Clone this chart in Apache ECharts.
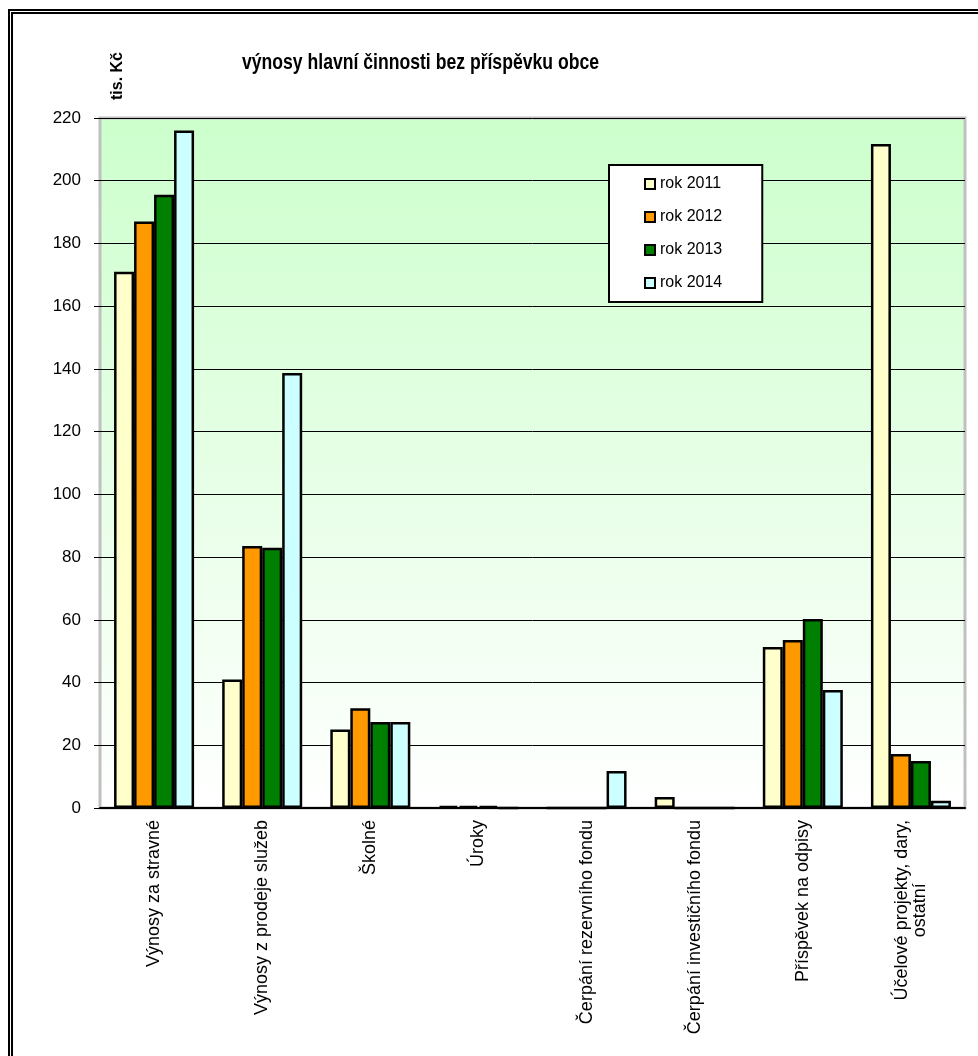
<!DOCTYPE html>
<html>
<head>
<meta charset="utf-8">
<script src="https://cdn.jsdelivr.net/npm/echarts@6/dist/echarts.min.js"></script>
<style>
  html, body { margin: 0; padding: 0; background: #fff; }
  #frame {
    position: absolute; left: 8px; top: 9px; width: 970px; height: 1047px;
    border-left: 5px double #000; border-top: 5px double #000;
  }
  #chart { position: absolute; left: 0; top: 0; width: 978px; height: 1056px; }
</style>
</head>
<body>
<div id="frame"></div>
<div id="chart"></div>
<script>
const categories = [
  'Výnosy za stravné',
  'Výnosy z prodeje služeb',
  'Školné',
  'Úroky',
  'Čerpání rezervního fondu',
  'Čerpání investičního fondu',
  'Příspěvek na odpisy',
  'Účelové projekty, dary,\nostatní'
];
const years = ['rok 2011', 'rok 2012', 'rok 2013', 'rok 2014'];
const values2011 = [171, 41, 25, 0.7, 0, 3.5, 51.3, 211.7];
const values2012 = [187, 83.5, 31.8, 0.7, 0, 0, 53.6, 17.2];
const values2013 = [195.5, 83, 27.4, 0.7, 0, 0, 60.3, 15];
const values2014 = [216, 138.7, 27.4, 0, 11.8, 0, 37.6, 2.3];
const colors = ['#ffffcc', '#ff9900', '#008000', '#ccffff'];

const myChart = echarts.init(document.getElementById('chart'));
const font = '"Liberation Sans", Arial, sans-serif';
const seriesValues = [values2011, values2012, values2013, values2014];

const option = {
  animation: false,
  graphic: [{
    type: 'text',
    x: 242, y: 52,
    scaleX: 0.8,
    style: {
      text: 'výnosy hlavní činnosti bez příspěvku obce',
      font: 'bold 22px "Liberation Sans", Arial, sans-serif',
      fill: '#000'
    }
  }, {
    type: 'text',
    x: 110, y: 100,
    rotation: Math.PI / 2,
    style: {
      text: 'tis. Kč',
      font: 'bold 16px "Liberation Sans", Arial, sans-serif',
      fill: '#000'
    }
  }],
  legend: {
    orient: 'vertical',
    left: 609,
    top: 165,
    backgroundColor: '#fff',
    borderColor: '#000',
    borderWidth: 2,
    padding: [11, 40, 11, 35],
    itemGap: 17,
    itemWidth: 10,
    itemHeight: 10,
    icon: 'rect',
    textStyle: { fontFamily: font, fontSize: 16, color: '#000' },
    data: years
  },
  grid: {
    left: 100, right: 13, top: 118, bottom: 248,
    show: true,
    borderColor: '#c0c0c0',
    borderWidth: 3,
    backgroundColor: new echarts.graphic.LinearGradient(0, 0, 0, 1, [
      { offset: 0, color: '#ccffcc' },
      { offset: 1, color: '#ffffff' }
    ])
  },
  xAxis: {
    type: 'category',
    data: categories,
    axisLine: { lineStyle: { color: '#000', width: 2 } },
    axisTick: { length: 5, lineStyle: { color: '#000' } },
    axisLabel: {
      rotate: 90,
      interval: 0,
      margin: 12,
      fontFamily: font,
      fontSize: 18,
      color: '#000',
      formatter: function (v) {
        const parts = v.split('\n');
        if (parts.length === 1) return v;
        return '{a|' + parts[0] + '}\n{b|' + parts[1] + '}';
      },
      rich: {
        a: { fontFamily: font, fontSize: 18, color: '#000' },
        b: { fontFamily: font, fontSize: 18, color: '#000', align: 'center' }
      }
    }
  },
  yAxis: {
    type: 'value',
    min: 0,
    max: 220,
    interval: 20,
    axisLine: { show: false },
    axisTick: { show: true, length: 6, lineStyle: { color: '#000' } },
    axisLabel: { fontFamily: font, fontSize: 17, color: '#000', margin: 19 },
    splitLine: { lineStyle: { color: '#000', width: 1 } }
  },
  series: years.map((name, i) => ({
    name: name,
    type: 'bar',
    data: seriesValues[i],
    barGap: '0%',
    barCategoryGap: '26%',
    itemStyle: { color: colors[i], borderColor: '#000', borderWidth: 2.5 }
  }))
};
myChart.setOption(option);
</script>
</body>
</html>
